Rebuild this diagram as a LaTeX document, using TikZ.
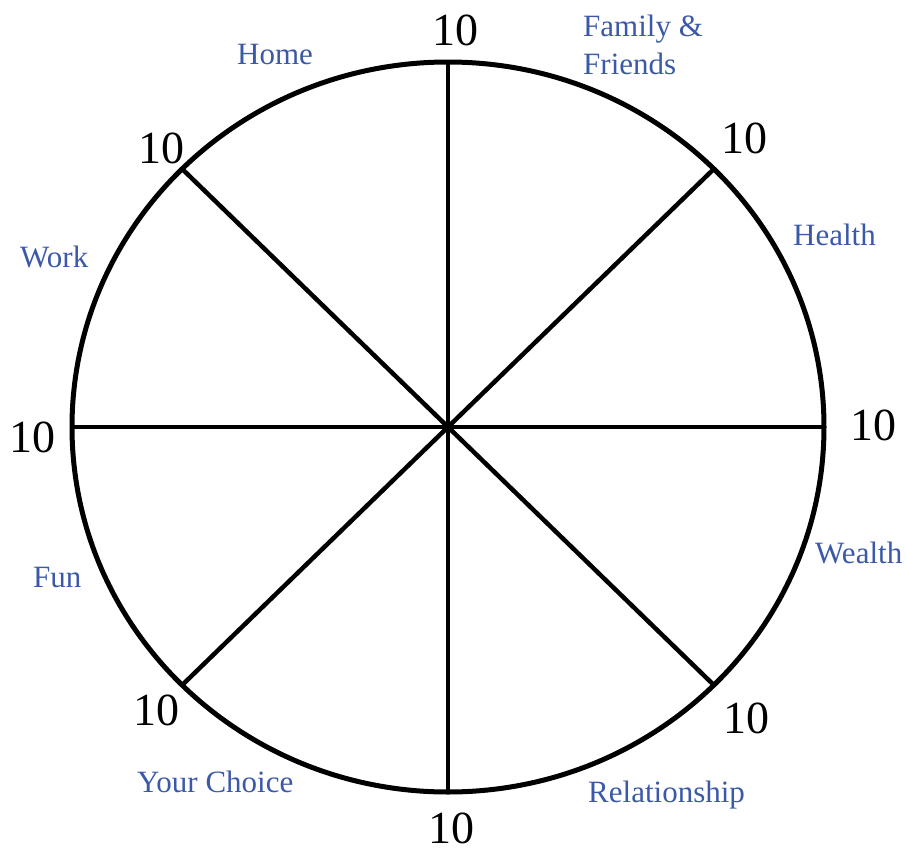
\documentclass[tikz,border=0pt]{standalone}
\usepackage{fontspec}
\setmainfont{Liberation Serif}
\definecolor{lblue}{RGB}{59,89,168}
\begin{document}
\begin{tikzpicture}[x=1pt,y=-1pt,
  num/.style={anchor=base west,inner sep=0pt,font=\fontsize{46}{50}\selectfont,text=black},
  lbl/.style={anchor=base west,inner sep=0pt,font=\fontsize{31}{38}\selectfont,text=lblue},
  rim/.style={line width=5pt,draw=black},
  spoke/.style={line width=4.5pt,draw=black}]
\useasboundingbox (0,0) rectangle (906,852);
\coordinate (c) at (448,427);
\foreach \a [count=\i] in {0,45,...,315}{
  \coordinate (e\i) at ({448+376*cos(\a)},{427-365*sin(\a)});
}
\foreach \i in {1,...,8}{ \draw[spoke] (c) -- (e\i); }
\draw[rim] (c) ellipse [x radius=376, y radius=365];
% numbers
\node[num] (n1) at (432,45) {10};
\node[num] (n2) at (721,153) {10};
\node[num] (n3) at (850,440) {10};
\node[num] (n4) at (723,733) {10};
\node[num] (n5) at (428,843) {10};
\node[num] (n6) at (133,725) {10};
\node[num] (n7) at (9,452) {10};
\node[num] (n8) at (138,163) {10};
% labels
\node[lbl] (l1) at (583,36) {Family \&};
\node[lbl] (l1b) at (583,74) {Friends};
\node[lbl] (l2) at (237,64) {Home};
\node[lbl] (l3) at (793,245) {Health};
\node[lbl] (l4) at (20,267) {Work};
\node[lbl] (l5) at (815,563) {Wealth};
\node[lbl] (l6) at (33,587) {Fun};
\node[lbl] (l7) at (137,792) {Your Choice};
\node[lbl] (l8) at (588,802) {Relationship};
\end{tikzpicture}
\end{document}
